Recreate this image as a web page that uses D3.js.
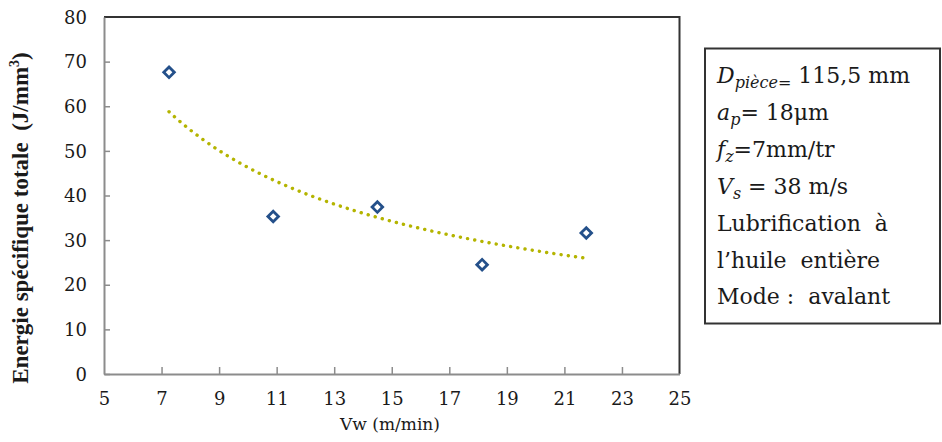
<!DOCTYPE html>
<html><head><meta charset="utf-8">
<script src="https://cdn.jsdelivr.net/npm/d3@7"></script>
<style>
body{margin:0;background:#fff;}
svg{display:block;}
</style></head>
<body>
<svg id="chart" width="942" height="442"></svg>
<script>
const vw = [7.26, 10.88, 14.5, 18.14, 21.76];
const energy = [67.6, 35.3, 37.4, 24.5, 31.6];
const xTicks = [5, 7, 9, 11, 13, 15, 17, 19, 21, 23, 25];
const yTicks = [0, 10, 20, 30, 40, 50, 60, 70, 80];

(function () {
const svg = d3.select("#chart");
const pL = 104, pR = 679.5, pT = 17, pB = 374;
const x = d3.scaleLinear().domain([5, 25]).range([pL, pR]);
const y = d3.scaleLinear().domain([0, 80]).range([pB, pT]);
const serif = "'Liberation Serif', serif";
const wide = "'DejaVu Serif', serif";

// frame top/right
svg.append("path")
  .attr("d", `M${pL},${pT}H${pR}V${pB}`)
  .attr("fill", "none").attr("stroke", "#333").attr("stroke-width", 2);

// axes
const xAxis = svg.append("g").attr("transform", `translate(0,${pB})`)
  .call(d3.axisBottom(x).tickValues(xTicks).tickSize(7).tickSizeOuter(0).tickFormat(d3.format("d")));
const yAxis = svg.append("g").attr("transform", `translate(${pL},0)`)
  .call(d3.axisLeft(y).tickValues(yTicks).tickSize(6).tickSizeOuter(0).tickFormat(d3.format("d")));
[xAxis, yAxis].forEach(g => {
  g.select(".domain").attr("stroke", "#8c8c8c").attr("stroke-width", 2);
  g.selectAll(".tick line").attr("stroke", "#8c8c8c").attr("stroke-width", 1.5);
  g.selectAll(".tick text").attr("fill", "#1a1a1a").style("font-family", wide).style("font-size", "18px");
});
xAxis.selectAll(".tick line").attr("y2", -7);
xAxis.selectAll(".tick text").attr("y", 18);
yAxis.selectAll(".tick line").attr("x2", 6).attr("x1", 0);
yAxis.selectAll(".tick text").attr("x", -17).attr("dy", "0.34em");
yAxis.selectAll(".tick").filter(d => d === 80).select("line").remove();
xAxis.selectAll(".tick").filter(d => d === 5 || d === 25).select("line").remove();

// power trendline fit from the data
const lx = vw.map(Math.log), ly = energy.map(Math.log);
const mx = d3.mean(lx), my = d3.mean(ly);
const b = d3.sum(lx.map((v, i) => (v - mx) * (ly[i] - my))) / d3.sum(lx.map(v => (v - mx) ** 2));
const a = Math.exp(my - b * mx);
const xs = d3.range(0, 101).map(i => vw[0] + (vw[vw.length - 1] - vw[0]) * i / 100);
svg.append("path")
  .datum(xs)
  .attr("d", d3.line().x(d => x(d)).y(d => y(a * Math.pow(d, b))))
  .attr("fill", "none").attr("stroke", "#b4b400").attr("stroke-width", 3.4)
  .attr("stroke-linecap", "round").attr("stroke-dasharray", "0.1 7.2");

// markers
svg.selectAll("path.pt").data(vw).enter().append("path")
  .attr("class", "pt")
  .attr("d", d3.symbol().type(d3.symbolSquare).size(56))
  .attr("transform", (d, i) => `translate(${x(d)},${y(energy[i])}) rotate(45)`)
  .attr("fill", "#fff").attr("stroke", "#24508a").attr("stroke-width", 2.8);

// axis titles
svg.append("text").attr("x", 390).attr("y", 430).attr("text-anchor", "middle")
  .style("font-family", wide).style("font-size", "17px").attr("fill", "#1a1a1a")
  .text("Vw (m/min)");
const yl = svg.append("text").attr("transform", "translate(28,218) rotate(-90)")
  .attr("text-anchor", "middle").style("font-family", serif).style("font-size", "23px")
  .style("font-weight", "bold").attr("fill", "#1a1a1a")
  .attr("xml:space", "preserve").style("white-space", "pre");
yl.append("tspan").text("Energie spécifique totale  (J/mm");
yl.append("tspan").attr("dy", -9).style("font-size", "14px").text("3");
yl.append("tspan").attr("dy", 9).text(")");

// info box
svg.append("rect").attr("x", 705).attr("y", 48.5).attr("width", 235).attr("height", 275)
  .attr("fill", "#fff").attr("stroke", "#333").attr("stroke-width", 2);
const fs = "22px";
const lines = [
  [["D", "i"], ["pièce=", "sub"], [" 115,5 mm", ""]],
  [["a", "i"], ["p", "sub"], ["= 18μm", ""]],
  [["f", "i"], ["z", "sub"], ["=7mm/tr", ""]],
  [["V", "i"], ["s", "sub"], [" = 38 m/s", ""]],
  [["Lubrification  à", ""]],
  [["l’huile  entière", ""]],
  [["Mode :  avalant", ""]]
];
const baselines = [83, 120, 157, 194, 231, 268, 304];
lines.forEach((ln, k) => {
  const t = svg.append("text").attr("x", 717).attr("y", baselines[k])
    .style("font-family", wide).style("font-size", fs).attr("fill", "#1a1a1a")
    .attr("xml:space", "preserve").style("white-space", "pre");
  let sub = false;
  ln.forEach(([s, st]) => {
    const ts = t.append("tspan").text(s);
    if (st === "i") ts.style("font-style", "italic");
    if (st === "sub") { ts.style("font-style", "italic").style("font-size", "16px").attr("dy", 5); sub = true; }
    else if (sub) { ts.attr("dy", -5); sub = false; }
  });
});
})();
</script>
</body></html>
